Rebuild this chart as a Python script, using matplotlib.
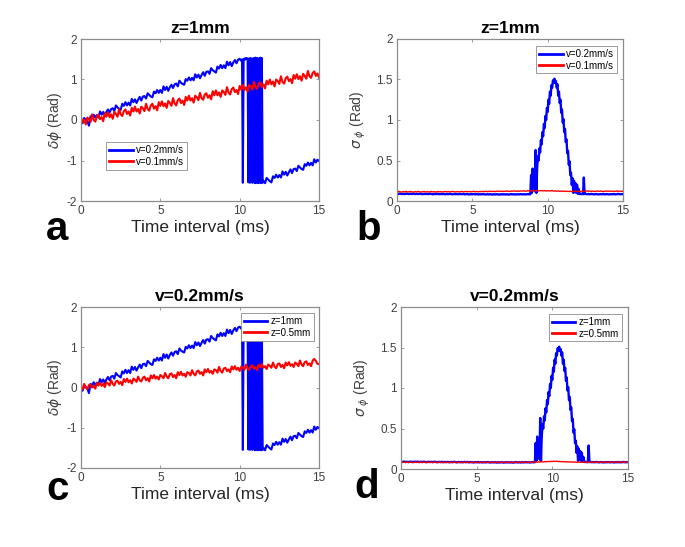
import matplotlib
matplotlib.use("Agg")
import matplotlib.pyplot as plt
import numpy as np

plt.rcParams['font.family'] = ['Liberation Sans', 'DejaVu Sans']
plt.rcParams['mathtext.fontset'] = 'dejavusans'

# time axes (ms); finer sampling where the signal jumps
t = np.round(np.linspace(0, 15, 151), 2)
t_wrap = np.round(np.concatenate([np.linspace(0, 10.1, 102),
                                  np.linspace(10.15, 11.45, 27),
                                  np.linspace(11.5, 15.0, 36)]), 2)
t_peak = np.round(np.concatenate([np.linspace(0, 8.8, 89),
                                  np.linspace(8.85, 12.5, 74),
                                  np.linspace(12.6, 15.0, 25)]), 2)

# phase change, z=1mm, v=0.2mm/s  (panels a and c), sampled on t_wrap
dphi_v02 = [
    -0.02, -0.08, 0.05, 0.01, -0.03, -0.14, 0.09, 0.05, 0.13, 0.06,
    0.12, 0.06, 0.21, 0.13, 0.20, 0.11, 0.20, 0.26, 0.18, 0.27,
    0.29, 0.22, 0.36, 0.31, 0.28, 0.25, 0.40, 0.35, 0.44, 0.36,
    0.43, 0.36, 0.52, 0.44, 0.51, 0.42, 0.50, 0.57, 0.48, 0.58,
    0.59, 0.53, 0.66, 0.62, 0.58, 0.56, 0.70, 0.66, 0.74, 0.67,
    0.74, 0.67, 0.83, 0.74, 0.82, 0.72, 0.81, 0.87, 0.79, 0.88,
    0.90, 0.83, 0.97, 0.92, 0.89, 0.87, 1.01, 0.97, 1.05, 0.98,
    1.04, 0.98, 1.13, 1.05, 1.12, 1.03, 1.11, 1.18, 1.09, 1.19,
    1.20, 1.14, 1.28, 1.23, 1.20, 1.17, 1.32, 1.27, 1.36, 1.28,
    1.35, 1.28, 1.44, 1.35, 1.43, 1.33, 1.42, 1.48, 1.40, 1.49,
    1.51, 1.46,
    # 10.15 - 11.45 ms
    1.50, -1.55, 1.50, 1.52, 1.49, 1.53, 1.51, 1.52, -1.54, 1.52,
    -1.55, 1.53, 1.51, -1.55, 1.52, 1.53, -1.56, 1.54, -1.55, 1.53,
    -1.56, 1.52, -1.55, 1.54, -1.56, 1.53, -1.55,
    # 11.5 - 15 ms
    -1.50, -1.56, -1.43, -1.47, -1.51, -1.54, -1.39, -1.43, -1.35, -1.42,
    -1.36, -1.42, -1.27, -1.35, -1.28, -1.37, -1.29, -1.22, -1.31, -1.21,
    -1.20, -1.26, -1.13, -1.17, -1.21, -1.23, -1.09, -1.13, -1.05, -1.12,
    -1.06, -1.12, -0.97, -1.05, -0.98, -1.01]

# phase change, z=1mm, v=0.1mm/s  (panel a)
dphi_v01 = [
    0.06, -0.06, 0.01, -0.11, 0.06, 0.02, -0.05, 0.14, 0.00, -0.04,
    0.09, 0.13, 0.02, 0.07, -0.03, 0.17, 0.08, 0.19, 0.07, 0.14,
    0.03, 0.20, 0.15, 0.08, 0.27, 0.14, 0.10, 0.22, 0.26, 0.15,
    0.21, 0.11, 0.30, 0.21, 0.33, 0.21, 0.27, 0.16, 0.33, 0.29,
    0.22, 0.40, 0.27, 0.23, 0.36, 0.40, 0.28, 0.34, 0.24, 0.44,
    0.35, 0.46, 0.34, 0.41, 0.30, 0.47, 0.42, 0.35, 0.54, 0.41,
    0.36, 0.49, 0.53, 0.42, 0.48, 0.37, 0.57, 0.48, 0.60, 0.48,
    0.54, 0.43, 0.60, 0.56, 0.49, 0.67, 0.54, 0.50, 0.63, 0.66,
    0.55, 0.61, 0.51, 0.71, 0.61, 0.73, 0.61, 0.68, 0.57, 0.73,
    0.69, 0.62, 0.81, 0.68, 0.63, 0.76, 0.80, 0.69, 0.74, 0.64,
    0.84, 0.75, 0.87, 0.74, 0.81, 0.70, 0.87, 0.83, 0.75, 0.94,
    0.81, 0.77, 0.90, 0.93, 0.82, 0.88, 0.78, 0.97, 0.88, 1.00,
    0.88, 0.95, 0.83, 1.00, 0.96, 0.89, 1.08, 0.94, 0.90, 1.03,
    1.07, 0.96, 1.01, 0.91, 1.11, 1.02, 1.13, 1.01, 1.08, 0.97,
    1.14, 1.09, 1.02, 1.21, 1.08, 1.04, 1.16, 1.20, 1.09, 1.15,
    1.05]

# phase change, v=0.2mm/s, z=0.5mm  (panel c)
dphi_z05 = [
    0.01, -0.05, 0.09, 0.00, -0.04, 0.06, 0.08, 0.00, 0.04, -0.03,
    0.11, 0.05, 0.12, 0.04, 0.09, 0.01, 0.13, 0.10, 0.05, 0.18,
    0.09, 0.05, 0.15, 0.17, 0.09, 0.14, 0.06, 0.21, 0.14, 0.22,
    0.13, 0.18, 0.10, 0.22, 0.19, 0.14, 0.27, 0.18, 0.15, 0.24,
    0.27, 0.18, 0.23, 0.15, 0.30, 0.23, 0.31, 0.22, 0.27, 0.20,
    0.31, 0.28, 0.23, 0.36, 0.27, 0.23, 0.33, 0.35, 0.26, 0.31,
    0.23, 0.38, 0.31, 0.39, 0.30, 0.34, 0.27, 0.38, 0.36, 0.30,
    0.43, 0.34, 0.30, 0.40, 0.42, 0.34, 0.38, 0.30, 0.45, 0.38,
    0.46, 0.37, 0.41, 0.34, 0.45, 0.43, 0.37, 0.51, 0.41, 0.37,
    0.47, 0.49, 0.41, 0.45, 0.38, 0.52, 0.45, 0.53, 0.44, 0.49,
    0.41, 0.52, 0.50, 0.44, 0.57, 0.47, 0.44, 0.53, 0.55, 0.47,
    0.51, 0.43, 0.57, 0.51, 0.58, 0.49, 0.53, 0.46, 0.57, 0.54,
    0.49, 0.62, 0.52, 0.48, 0.58, 0.60, 0.51, 0.56, 0.48, 0.62,
    0.55, 0.63, 0.54, 0.58, 0.51, 0.62, 0.59, 0.53, 0.67, 0.57,
    0.53, 0.63, 0.65, 0.56, 0.60, 0.53, 0.67, 0.71, 0.66, 0.59,
    0.58]

# phase std, z=1mm, v=0.2mm/s  (panels b and d), sampled on t_peak
sig_v02 = [
    0.090, 0.087, 0.092, 0.086, 0.089, 0.085, 0.091, 0.088, 0.086, 0.090,
    0.087, 0.091, 0.085, 0.089, 0.086, 0.090, 0.087, 0.084, 0.089, 0.086,
    0.088, 0.085, 0.090, 0.086, 0.083, 0.088, 0.085, 0.089, 0.084, 0.087,
    0.085, 0.088, 0.083, 0.087, 0.084, 0.089, 0.085, 0.082, 0.087, 0.084,
    0.086, 0.083, 0.088, 0.084, 0.087, 0.082, 0.086, 0.084, 0.081, 0.085,
    0.083, 0.086, 0.082, 0.085, 0.081, 0.084, 0.082, 0.086, 0.083, 0.080,
    0.084, 0.081, 0.085, 0.079, 0.083, 0.080, 0.084, 0.082, 0.079, 0.083,
    0.081, 0.084, 0.080, 0.083, 0.079, 0.082, 0.085, 0.081, 0.083, 0.080,
    0.084, 0.081, 0.085, 0.082, 0.084, 0.081, 0.083, 0.085, 0.082,
    # 8.85 - 12.5 ms
    0.085, 0.32, 0.10, 0.40, 0.18, 0.36, 0.12, 0.63, 0.10, 0.40,
    0.55, 0.50, 0.65, 0.60, 0.75, 0.70, 0.85, 0.80, 0.95, 0.90,
    1.05, 1.00, 1.15, 1.10, 1.25, 1.20, 1.35, 1.30, 1.43, 1.40,
    1.49, 1.46, 1.51, 1.46, 1.48, 1.40, 1.44, 1.30, 1.35, 1.21,
    1.25, 1.09, 1.13, 0.97, 1.01, 0.85, 0.89, 0.73, 0.76, 0.59,
    0.62, 0.45, 0.49, 0.32, 0.35, 0.20, 0.28, 0.10, 0.25, 0.11,
    0.22, 0.10, 0.20, 0.09, 0.15, 0.088, 0.086, 0.089, 0.085, 0.087,
    0.084, 0.29, 0.086, 0.088,
    # 12.6 - 15 ms
    0.084, 0.086, 0.083, 0.087, 0.085, 0.082, 0.086, 0.084, 0.081, 0.085,
    0.083, 0.086, 0.082, 0.085, 0.084, 0.081, 0.085, 0.083, 0.086, 0.082,
    0.084, 0.087, 0.083, 0.085, 0.084]

# phase std, z=1mm, v=0.1mm/s  (panel b)
sig_v01 = [
    0.112, 0.118, 0.114, 0.110, 0.116, 0.113, 0.119, 0.111, 0.115, 0.117,
    0.113, 0.109, 0.116, 0.112, 0.118, 0.114, 0.110, 0.115, 0.117, 0.112,
    0.116, 0.111, 0.114, 0.118, 0.112, 0.115, 0.110, 0.117, 0.113, 0.116,
    0.111, 0.115, 0.118, 0.113, 0.117, 0.112, 0.116, 0.119, 0.114, 0.111,
    0.117, 0.113, 0.115, 0.119, 0.112, 0.116, 0.118, 0.114, 0.117, 0.113,
    0.116, 0.120, 0.114, 0.117, 0.113, 0.118, 0.115, 0.119, 0.116, 0.121,
    0.115, 0.118, 0.122, 0.117, 0.120, 0.116, 0.119, 0.123, 0.118, 0.121,
    0.117, 0.122, 0.119, 0.124, 0.120, 0.118, 0.123, 0.121, 0.125, 0.119,
    0.123, 0.120, 0.125, 0.122, 0.126, 0.121, 0.124, 0.127, 0.122, 0.125,
    0.128, 0.123, 0.126, 0.130, 0.124, 0.127, 0.129, 0.125, 0.128, 0.124,
    0.127, 0.123, 0.126, 0.129, 0.122, 0.125, 0.121, 0.124, 0.120, 0.123,
    0.119, 0.122, 0.118, 0.121, 0.117, 0.120, 0.116, 0.119, 0.122, 0.117,
    0.120, 0.116, 0.119, 0.123, 0.118, 0.121, 0.125, 0.120, 0.123, 0.119,
    0.122, 0.118, 0.121, 0.124, 0.119, 0.123, 0.120, 0.117, 0.121, 0.124,
    0.120, 0.123, 0.119, 0.122, 0.118, 0.121, 0.124, 0.120, 0.122, 0.119,
    0.121]

# phase std, v=0.2mm/s, z=0.5mm  (panel d)
sig_z05 = [
    0.082, 0.087, 0.083, 0.080, 0.085, 0.081, 0.086, 0.083, 0.079, 0.084,
    0.081, 0.085, 0.082, 0.086, 0.080, 0.084, 0.081, 0.083, 0.087, 0.082,
    0.084, 0.080, 0.083, 0.086, 0.081, 0.085, 0.082, 0.079, 0.084, 0.081,
    0.085, 0.082, 0.080, 0.084, 0.081, 0.086, 0.083, 0.080, 0.084, 0.082,
    0.080, 0.083, 0.086, 0.081, 0.084, 0.080, 0.083, 0.085, 0.081, 0.084,
    0.082, 0.079, 0.083, 0.086, 0.081, 0.084, 0.080, 0.083, 0.085, 0.081,
    0.084, 0.081, 0.085, 0.082, 0.079, 0.083, 0.086, 0.081, 0.084, 0.082,
    0.080, 0.084, 0.081, 0.085, 0.082, 0.079, 0.083, 0.086, 0.082, 0.084,
    0.081, 0.085, 0.082, 0.086, 0.083, 0.080, 0.084, 0.087, 0.083, 0.086,
    0.084, 0.088, 0.085, 0.090, 0.087, 0.092, 0.089, 0.094, 0.090, 0.095,
    0.092, 0.097, 0.093, 0.096, 0.091, 0.094, 0.089, 0.092, 0.088, 0.090,
    0.086, 0.089, 0.085, 0.088, 0.084, 0.087, 0.083, 0.086, 0.082, 0.085,
    0.083, 0.086, 0.082, 0.085, 0.081, 0.084, 0.087, 0.082, 0.085, 0.083,
    0.086, 0.082, 0.085, 0.081, 0.084, 0.087, 0.083, 0.085, 0.082, 0.086,
    0.083, 0.086, 0.082, 0.085, 0.088, 0.083, 0.086, 0.082, 0.085, 0.084,
    0.086]

xticks = [0, 5, 10, 15]
dphi_ticks = [-2, -1, 0, 1, 2]
dphi_labels = ['-2', '-1', '0', '1', '2']
sig_ticks = [0, 0.5, 1, 1.5, 2]
sig_labels = ['0', '0.5', '1', '1.5', '2']

BLUE = '#0000ff'
RED = '#ff0000'
GRAY = '#8c8c8c'
TXT = '#404040'

fig = plt.figure(figsize=(6.85, 5.47), dpi=100)
W, H = 685, 547

def make_ax(l, r, top, bot):
    return fig.add_axes([l / W, 1 - bot / H, (r - l) / W, (bot - top) / H])

def style(ax, yt, yl, ylim):
    ax.set_xlim(0, 15)
    ax.set_ylim(*ylim)
    ax.set_xticks(xticks)
    ax.set_xticklabels([str(v) for v in xticks])
    ax.set_yticks(yt)
    ax.set_yticklabels(yl)
    ax.tick_params(direction='in', length=2.5, width=0.6, colors=GRAY,
                   labelcolor=TXT, labelsize=8.5, top=True, right=True, pad=3)
    for s in ax.spines.values():
        s.set_color(GRAY)
        s.set_linewidth(0.9)
    ax.set_xlabel('Time interval (ms)', fontsize=12.5, color='#262626', labelpad=2)

def leg(ax, **kw):
    lg = ax.legend(fontsize=7, handlelength=2.4, handletextpad=0.35,
                   borderpad=0.3, labelspacing=0.15, fancybox=False,
                   framealpha=1, borderaxespad=0.4, **kw)
    lg.get_frame().set_edgecolor(GRAY)
    lg.get_frame().set_linewidth(0.6)
    for h in lg.get_lines():
        h.set_linewidth(2.0)

# a
ax = make_ax(81, 319, 39, 201)
ax.plot(t_wrap, dphi_v02, color=BLUE, lw=1.5, label='v=0.2mm/s')
ax.plot(t, dphi_v01, color=RED, lw=1.5, label='v=0.1mm/s')
style(ax, dphi_ticks, dphi_labels, (-2, 2))
ax.set_title('z=1mm', fontsize=12.5, fontweight='bold', pad=4)
ax.set_ylabel(r'$\delta\phi$ (Rad)', fontsize=10, color='#404040', labelpad=2)
leg(ax, loc='lower left', bbox_to_anchor=(0.09, 0.17))

# b
ax = make_ax(397, 623, 39, 201)
ax.plot(t_peak, sig_v02, color=BLUE, lw=1.7, label='v=0.2mm/s')
ax.plot(t, sig_v01, color=RED, lw=1.0, label='v=0.1mm/s')
style(ax, sig_ticks, sig_labels, (0, 2))
ax.set_title('z=1mm', fontsize=12.5, fontweight='bold', pad=4)
ax.set_ylabel(r'$\sigma_{\ \phi}$ (Rad)', fontsize=10, color='#404040', labelpad=6)
leg(ax, loc='upper right', bbox_to_anchor=(0.99, 0.98))

# c
ax = make_ax(81, 319, 307, 468)
ax.plot(t_wrap, dphi_v02, color=BLUE, lw=1.5, label='z=1mm')
ax.plot(t, dphi_z05, color=RED, lw=1.5, label='z=0.5mm')
style(ax, dphi_ticks, dphi_labels, (-2, 2))
ax.set_title('v=0.2mm/s', fontsize=12.5, fontweight='bold', pad=4)
ax.set_ylabel(r'$\delta\phi$ (Rad)', fontsize=10, color='#404040', labelpad=2)
leg(ax, loc='upper right', bbox_to_anchor=(0.995, 0.985))

# d
ax = make_ax(401, 628, 307, 469)
ax.plot(t_peak, sig_v02, color=BLUE, lw=1.7, label='z=1mm')
ax.plot(t, sig_z05, color=RED, lw=1.0, label='z=0.5mm')
style(ax, sig_ticks, sig_labels, (0, 2))
ax.set_title('v=0.2mm/s', fontsize=12.5, fontweight='bold', pad=4)
ax.set_ylabel(r'$\sigma_{\ \phi}$ (Rad)', fontsize=10, color='#404040', labelpad=6)
leg(ax, loc='upper right', bbox_to_anchor=(0.99, 0.98))

# panel letters
for s, x, y in [('a', 46, 240), ('b', 356, 240), ('c', 46, 500), ('d', 354, 498)]:
    fig.text(x / W, 1 - y / H, s, fontsize=29, fontweight='bold',
             ha='left', va='baseline')

fig.savefig('out.png', dpi=100)
